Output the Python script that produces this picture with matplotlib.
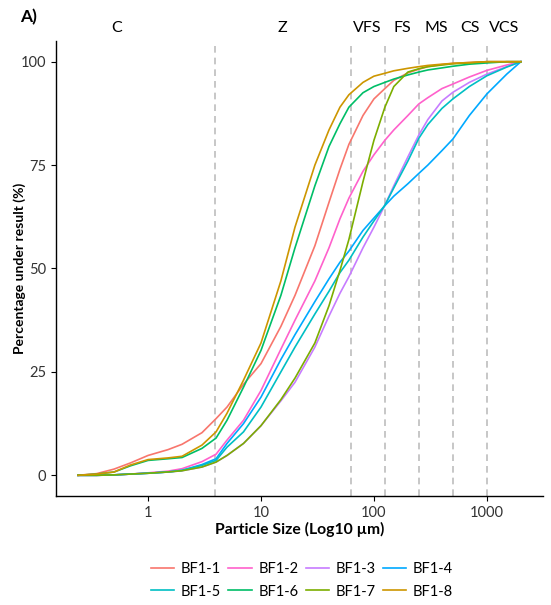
"""
Particle size distribution curves for the BF1 samples
Cumulative percentage under size, with Wentworth class boundaries
"""

import matplotlib
matplotlib.use('Agg')
import matplotlib.pyplot as plt
import matplotlib.transforms as mtransforms
from matplotlib.lines import Line2D

# particle sizes (um) the curves were read at
sizes = [0.24, 0.35, 0.5, 0.7, 1, 1.5, 2, 3, 4, 5, 7, 10, 15, 20, 30, 40, 50, 60,
         80, 100, 125, 150, 200, 250, 300, 400, 500, 700, 1000, 1500, 2000]

# cumulative % under size, one list per sample
bf1_1 = [0, 0.4, 1.5, 3.0, 4.8, 6.2, 7.5, 10.3, 13.7, 16.5, 22, 27, 36, 43.5, 55.5, 66,
         74, 80, 87, 91, 93.5, 95.5, 97.3, 98.2, 98.8, 99.3, 99.6, 99.8, 100, 100, 100]
bf1_2 = [0, 0, 0.1, 0.3, 0.6, 1.0, 1.6, 3.3, 5.1, 8.5, 13.3, 20.5, 30.5, 37.5, 47, 55,
         62, 67, 73.5, 77.5, 81, 83.5, 87, 89.8, 91.3, 93.5, 94.6, 96.3, 97.9, 99.2, 100]
bf1_3 = [0, 0, 0.1, 0.3, 0.5, 0.8, 1.1, 2.0, 3.2, 4.8, 7.7, 12, 18, 22.5, 31, 38.5,
         44, 48, 55, 60, 65.3, 70, 77, 82.3, 86, 90.5, 92.6, 95, 97, 98.8, 100]
bf1_4 = [0, 0, 0.1, 0.3, 0.5, 0.8, 1.2, 2.6, 4.0, 7.7, 12.5, 18.9, 28, 34, 42, 47.5,
         51.5, 54.2, 59.2, 62.2, 65.2, 67.5, 70.5, 73, 75, 78.5, 81.3, 87, 92.2, 97, 100]
bf1_5 = [0, 0, 0.1, 0.3, 0.5, 0.8, 1.2, 2.4, 3.6, 6.8, 10.5, 16.5, 25, 31, 39, 44.5,
         49, 52, 57.6, 61.5, 65.3, 69.5, 76, 81.5, 84.8, 88.7, 91, 94, 96.6, 98.7, 100]
bf1_6 = [0, 0.3, 0.8, 2.3, 3.6, 4.0, 4.3, 6.5, 9, 13.3, 21.3, 30.2, 43.5, 55, 70, 79.5,
         85, 89, 92.5, 94, 95, 95.8, 96.8, 97.5, 98, 98.5, 98.9, 99.4, 99.7, 100, 100]
bf1_7 = [0, 0, 0.1, 0.3, 0.5, 0.8, 1.1, 2.0, 3.2, 4.8, 7.7, 12, 18.3, 23.5, 32, 41,
         49.5, 57, 71, 81, 89, 94, 97.5, 98.3, 98.8, 99.2, 99.5, 99.7, 100, 100, 100]
bf1_8 = [0, 0.3, 0.8, 2.5, 3.8, 4.2, 4.6, 7.3, 10.5, 15, 23, 32, 47, 60, 75, 83.5,
         89, 92, 95, 96.5, 97.2, 97.8, 98.4, 98.8, 99.1, 99.4, 99.6, 99.8, 100, 100, 100]

samples = ['BF1-1', 'BF1-2', 'BF1-3', 'BF1-4', 'BF1-5', 'BF1-6', 'BF1-7', 'BF1-8']
colors = ['#F8766D', '#FF61CC', '#C77CFF', '#00A9FF',
          '#00BFC4', '#00BE67', '#7CAE00', '#CD9600']

# Wentworth class boundaries (um) and the class labels on top
boundaries = [3.9, 62.5, 125, 250, 500, 1000]
class_labels = ['C', 'Z', 'VFS', 'FS', 'MS', 'CS', 'VCS']
class_label_x = [0.53, 15.6, 88, 177, 354, 707, 1414]


def plot_curves():
    plt.rcParams['font.family'] = ['Lato', 'DejaVu Sans']

    fig = plt.figure(figsize=(5.51, 6.05), dpi=100)
    ax = fig.add_axes([0.1016, 0.1802, 0.8839, 0.752])

    for x in boundaries:
        ax.axvline(x, color='#BDBDBD', linestyle=(0, (4, 3)), linewidth=1.2, zorder=1)

    series = [bf1_1, bf1_2, bf1_3, bf1_4, bf1_5, bf1_6, bf1_7, bf1_8]
    for name, values, col in zip(samples, series, colors):
        ax.plot(sizes, values, color=col, linewidth=1.2, label=name, zorder=2)

    ax.set_xscale('log')
    ax.set_xlim(0.153, 3141)
    ax.set_ylim(-5, 105)
    ax.set_xticks([1, 10, 100, 1000])
    ax.set_xticklabels(['1', '10', '100', '1000'])
    ax.minorticks_off()
    ax.set_yticks([0, 25, 50, 75, 100])

    for side in ['top', 'right']:
        ax.spines[side].set_visible(False)
    for side in ['left', 'bottom']:
        ax.spines[side].set_linewidth(1.0)
    ax.tick_params(axis='both', length=3.5, width=0.8, labelsize=10.5,
                   colors='black', labelcolor='#333333')

    ax.set_xlabel('Particle Size (Log10 µm)', fontsize=11.3, fontweight='bold')
    ax.set_ylabel('Percentage under result (%)', fontsize=10, fontweight='bold')
    ax.xaxis.set_label_coords(0.5, -0.056)
    ax.yaxis.set_label_coords(-0.062, 0.5)

    # class labels above the panel
    trans = mtransforms.blended_transform_factory(ax.transData, ax.transAxes)
    for lab, x in zip(class_labels, class_label_x):
        ax.text(x, 1.028, lab, transform=trans, ha='center', va='center',
                fontsize=11.5)

    fig.text(0.036, 0.972, 'A)', fontsize=12.5, fontweight='bold', va='center')

    # legend filled row by row
    order = [0, 4, 1, 5, 2, 6, 3, 7]
    handles = [Line2D([0], [0], color=colors[i], linewidth=1.2) for i in order]
    labels = [samples[i] for i in order]
    fig.legend(handles, labels, loc='center', bbox_to_anchor=(0.548, 0.041),
               ncol=4, frameon=False, fontsize=10.5, handlelength=1.6,
               handletextpad=0.45, columnspacing=0.5, labelspacing=0.6)

    fig.savefig('out.png', dpi=100)


if __name__ == '__main__':
    plot_curves()
